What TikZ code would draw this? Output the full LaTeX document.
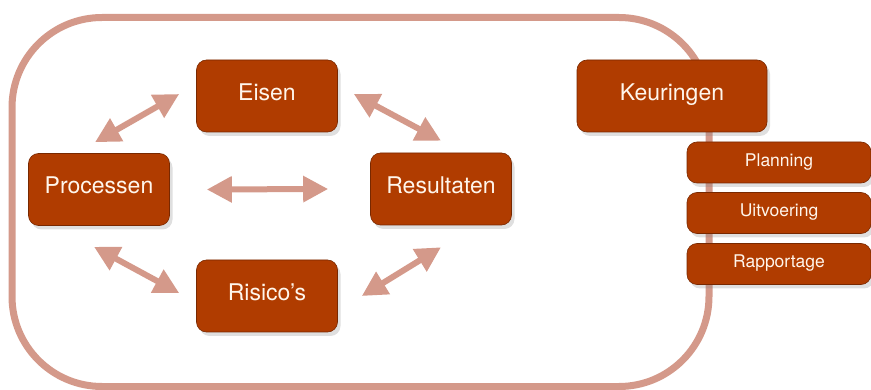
\documentclass[tikz,border=0pt]{standalone}
\usepackage{fontspec}
\setmainfont{TeX Gyre Heros}
\usetikzlibrary{arrows.meta,shadows}

\definecolor{rust}{RGB}{176,60,0}
\definecolor{rustdark}{RGB}{120,40,0}
\definecolor{salmon}{RGB}{212,153,138}
\definecolor{cream}{RGB}{255,246,236}

\tikzset{
	blok/.style={draw=rustdark, line width=0.6pt, fill=rust, rounded corners=10pt,
		text=cream, font=\fontsize{23}{26}\selectfont,
		text height=17pt, text depth=8pt,
		minimum width=141pt, minimum height=72pt, inner sep=0pt,
		drop shadow={opacity=0.25, shadow xshift=3pt, shadow yshift=-4pt}},
	klein/.style={blok, font=\fontsize{17.5}{20}\selectfont,
		text height=12.6pt, text depth=5pt,
		minimum width=184pt, minimum height=41pt},
	pijl/.style={salmon, line width=6pt, {Triangle[length=25pt,width=25pt]}-{Triangle[length=25pt,width=25pt]}},
}

\begin{document}
\begin{tikzpicture}[x=1pt,y=-1pt]
				\useasboundingbox (0,0) rectangle (871,390);
				\draw [salmon, line width=7pt, rounded corners=90pt] (12,17.5) rectangle (709,386.5);

				\node [blok] (eisen) at (267,96) {Eisen};
				\node [blok] (proc) at (99,189.5) {Processen};
				\node [blok] (result) at (441,189) {Resultaten};
				\node [blok] (risico) at (267,296) {Risico’s};
				\node [blok, minimum width=190pt] (keur) at (672,96) {Keuringen};
				\node [klein] (plan) at (779,162.5) {Planning};
				\node [klein] (uitv) at (779,213) {Uitvoering};
				\node [klein] (rapp) at (779,264) {Rapportage};

				\draw [pijl] ([shift={(-4pt,11pt)}]proc.north) -- ([shift={(-17pt,2pt)}]eisen.west);
				\draw [pijl] ([shift={(16pt,2pt)}]eisen.east) -- ([shift={(0pt,12pt)}]result.north);
				\draw [pijl] ([xshift=37pt]proc.east) -- ([xshift=-42pt]result.west);
				\draw [pijl] ([shift={(-5pt,-21pt)}]proc.south) -- ([shift={(-17pt,3pt)}]risico.west);
				\draw [pijl] ([xshift=24pt]risico.east) -- ([yshift=-22pt]result.south);
			\end{tikzpicture}
\end{document}
